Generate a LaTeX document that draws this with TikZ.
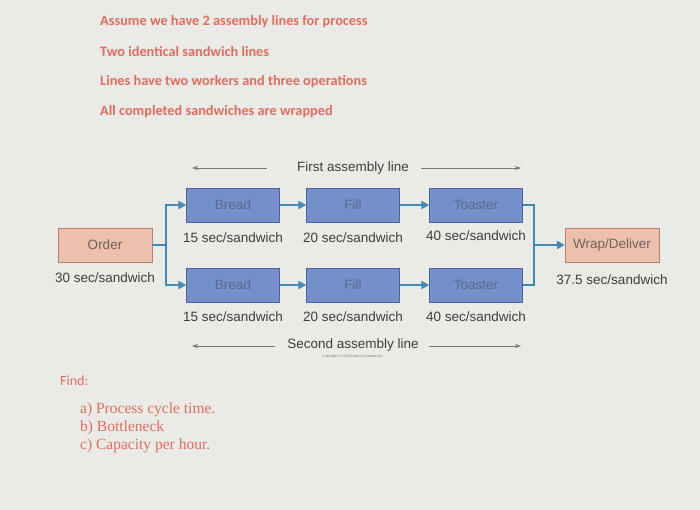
\documentclass[tikz,border=0pt]{standalone}
\usepackage{fontspec}
\setmainfont{Liberation Sans}
\newfontfamily\notefont{Carlito}
\newfontfamily\findfont{Liberation Serif}
\usepackage{tikz}
\usetikzlibrary{arrows.meta,positioning,calc}

\definecolor{paper}{RGB}{234,234,230}
\definecolor{stepblue}{RGB}{116,144,202}
\definecolor{stepedge}{RGB}{78,100,152}
\definecolor{steptext}{RGB}{92,106,138}
\definecolor{endfill}{RGB}{236,192,172}
\definecolor{endedge}{RGB}{186,128,108}
\definecolor{endtext}{RGB}{110,100,100}
\definecolor{flowblue}{RGB}{66,138,180}
\definecolor{notered}{RGB}{226,108,94}
\definecolor{labelgray}{RGB}{62,62,62}
\definecolor{axisgray}{RGB}{120,120,120}

\tikzset{
  stepbox/.style={draw=stepedge, fill=stepblue, text=steptext, minimum width=93pt, minimum height=34pt, font=\fontsize{13.5}{15}\selectfont},
  endbox/.style={draw=endedge, fill=endfill, text=endtext, minimum width=94pt, minimum height=34pt, font=\fontsize{13.5}{15}\selectfont},
  ratelabel/.style={text=labelgray, inner sep=0pt, font=\fontsize{13.5}{15}\selectfont},
  flow/.style={draw=flowblue, line width=2.4pt, -{Triangle[length=8pt,width=8pt]}},
  flowplain/.style={draw=flowblue, line width=2.4pt},
  linearrow/.style={draw=axisgray, line width=0.6pt, -{Stealth[length=6pt,width=4pt]}},
  note/.style={text=notered, anchor=west, inner sep=0pt, font=\notefont\bfseries\fontsize{14.3}{16}\selectfont},
}

\begin{document}
\begin{tikzpicture}[x=1pt, y=-1pt]
    \def\colA{233}  % Bread column
    \def\colB{353}  % Fill column
    \def\colC{476}  % Toaster column
    \def\rowtop{205} % first assembly line
    \def\rowbot{285} % second assembly line
    \def\rowmid{245} % order and wrap

    % Background
    \fill[paper] (0,0) rectangle (700,510);
    \useasboundingbox (0,0) rectangle (700,510);

    % Notes at the top
    \node[note] (n1) at (100,22) {Assume we have 2 assembly lines for process};
    \node[note] (n2) at (100,52) {Two identical sandwich lines};
    \node[note] (n3) at (100,82) {Lines have two workers and three operations};
    \node[note] (n4) at (100,112) {All completed sandwiches are wrapped};

    % Order and wrap
    \node[endbox] (order) at (105,\rowmid) {Order};
    \node[ratelabel] (orderrate) at (105,278) {30 sec/sandwich};
    \node[endbox] (wrap) at (612,\rowmid) {Wrap/Deliver};
    \node[ratelabel] (wraprate) at (612,280) {37.5 sec/sandwich};

    % First assembly line
    \node[stepbox] (breadA) at (\colA,\rowtop) {Bread};
    \node[stepbox] (fillA) at (\colB,\rowtop) {Fill};
    \node[stepbox] (toastA) at (\colC,\rowtop) {Toaster};
    \node[ratelabel] (breadArate) at (\colA,238) {15 sec/sandwich};
    \node[ratelabel] (fillArate) at (\colB,238) {20 sec/sandwich};
    \node[ratelabel] (toastArate) at (\colC,236) {40 sec/sandwich};

    % Second assembly line
    \node[stepbox] (breadB) at (\colA,\rowbot) {Bread};
    \node[stepbox] (fillB) at (\colB,\rowbot) {Fill};
    \node[stepbox] (toastB) at (\colC,\rowbot) {Toaster};
    \node[ratelabel] (breadBrate) at (\colA,317) {15 sec/sandwich};
    \node[ratelabel] (fillBrate) at (\colB,317) {20 sec/sandwich};
    \node[ratelabel] (toastBrate) at (\colC,317) {40 sec/sandwich};

    % Split and merge
    \coordinate (split) at (166,\rowmid);
    \coordinate (merge) at (534,\rowmid);
    \draw[flowplain] (order.east) -- (split);
    \draw[flow] (split) |- (breadA.west);
    \draw[flow] (split) |- (breadB.west);
    \draw[flowplain] (toastA.east) -| (merge);
    \draw[flowplain] (toastB.east) -| (merge);
    \draw[flow] (merge) -- (wrap.west);

    % Steps along each line
    \draw[flow] (breadA) -- (fillA);
    \draw[flow] (fillA) -- (toastA);
    \draw[flow] (breadB) -- (fillB);
    \draw[flow] (fillB) -- (toastB);

    % Line captions
    \node[ratelabel] (firstcap) at (353,168) {First assembly line};
    \coordinate (firstL) at (192,168);
    \coordinate (firstR) at (521,168);
    \draw[linearrow] ([xshift=-30pt]firstcap.west) -- (firstL);
    \draw[linearrow] ([xshift=12pt]firstcap.east) -- (firstR);

    \node[ratelabel] (secondcap) at (353,345) {Second assembly line};
    \coordinate (secondL) at (192,346);
    \coordinate (secondR) at (521,346);
    \draw[linearrow] ($(secondcap.west)+(-12,1)$) -- (secondL);
    \draw[linearrow] ($(secondcap.east)+(10,1)$) -- (secondR);
    \node[text=axisgray, inner sep=0pt, font=\fontsize{3.5}{4}\selectfont] (copy) at (353,357) {Copyright \textcopyright\ 2020 Pearson Canada Inc.};

    % Questions
    \node[text=notered, anchor=west, inner sep=0pt, font=\notefont\fontsize{14}{16}\selectfont] (find) at (60,381) {Find:};
    \node[text=notered, anchor=north west, inner sep=0pt, align=left, font=\findfont\fontsize{15.5}{18}\selectfont] (questions) at (80,403) {a) Process cycle time.\\ b) Bottleneck\\ c) Capacity per hour.};

\end{tikzpicture}
\end{document}
